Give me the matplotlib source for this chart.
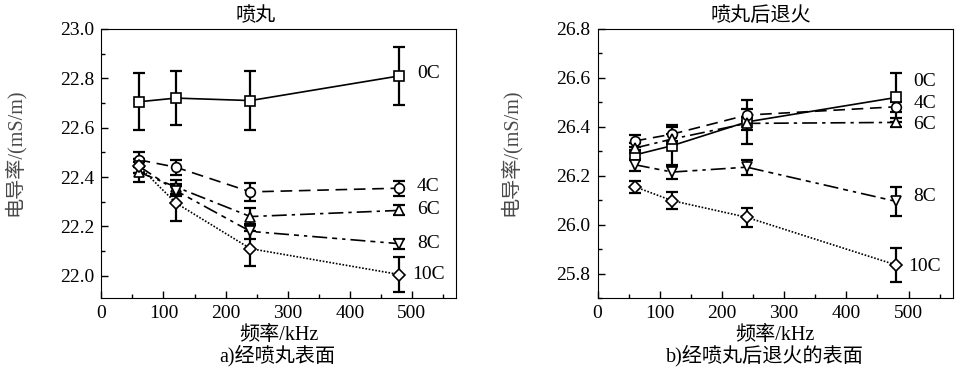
import matplotlib
matplotlib.use("Agg")
import matplotlib.pyplot as plt
from matplotlib.ticker import MultipleLocator, FormatStrFormatter

plt.rcParams['font.family'] = ['Liberation Serif', 'Noto Sans CJK SC']
plt.rcParams['font.size'] = 14

freq = [60, 120, 240, 480]
labels = ['0C', '4C', '6C', '8C', '10C']

# a) shot peened surface
a_vals = {
    '0C': [22.705, 22.72, 22.71, 22.81],
    '4C': [22.47, 22.44, 22.34, 22.355],
    '6C': [22.42, 22.36, 22.24, 22.265],
    '8C': [22.445, 22.345, 22.18, 22.13],
    '10C': [22.445, 22.295, 22.11, 22.005],
}
a_err = {
    '0C': [0.115, 0.11, 0.12, 0.117],
    '4C': [0.03, 0.03, 0.035, 0.03],
    '6C': [0.04, 0.03, 0.035, 0.02],
    '8C': [0.03, 0.02, 0.03, 0.02],
    '10C': [0.03, 0.075, 0.07, 0.07],
}

# b) shot peened + annealed surface
b_vals = {
    '0C': [26.285, 26.323, 26.42, 26.52],
    '4C': [26.342, 26.37, 26.448, 26.482],
    '6C': [26.313, 26.35, 26.414, 26.418],
    '8C': [26.245, 26.215, 26.235, 26.095],
    '10C': [26.155, 26.098, 26.03, 25.835],
}
b_err = {
    '0C': [0.02, 0.085, 0.09, 0.1],
    '4C': [0.025, 0.03, 0.025, 0.02],
    '6C': [0.02, 0.02, 0.025, 0.02],
    '8C': [0.025, 0.03, 0.03, 0.06],
    '10C': [0.025, 0.035, 0.04, 0.07],
}

styles = {
    '0C': ('s', '-'),
    '4C': ('o', (0, (7, 4))),
    '6C': ('^', (0, (9, 3, 2, 3))),
    '8C': ('v', (0, (9, 3, 3, 3, 2, 3))),
    '10C': ('D', (0, (1, 1))),
}

a_label_y = {'0C': 22.82, '4C': 22.36, '6C': 22.27, '8C': 22.13, '10C': 22.005}
b_label_y = {'0C': 26.585, '4C': 26.495, '6C': 26.41, '8C': 26.115, '10C': 25.83}

fig = plt.figure(figsize=(9.56, 3.67), dpi=100)
ax1 = fig.add_axes([0.106, 0.188, 0.371, 0.733])
ax2 = fig.add_axes([0.625, 0.188, 0.3716, 0.733])


def draw(ax, vals, errs, label_y, ylim, title, title_x, caption, cap_x):
    for name in labels:
        m, ls = styles[name]
        ms = 7 if m in ('^', 'v', 'o') else 6.5
        ax.errorbar(freq, vals[name], yerr=errs[name], fmt='none', ecolor='black',
                    elinewidth=1.6, capsize=4, capthick=1.6, zorder=2)
        ax.plot(freq, vals[name], color='black', linestyle=ls, linewidth=1.2,
                marker=m, markersize=ms, markerfacecolor='white',
                markeredgecolor='black', markeredgewidth=1.2, zorder=3)
        x_off = 508 if name != '10C' else 500
        ax.text(x_off, label_y[name], name, ha='left', va='center', fontsize=14)
    ax.set_xlim(0, 571)
    ax.set_ylim(*ylim)
    ax.xaxis.set_major_locator(MultipleLocator(100))
    ax.xaxis.set_minor_locator(MultipleLocator(50))
    ax.yaxis.set_major_locator(MultipleLocator(0.2))
    ax.yaxis.set_minor_locator(MultipleLocator(0.1))
    ax.tick_params(which='both', direction='in', top=False, right=False,
                   labelsize=14, width=1)
    ax.tick_params(which='major', length=5, pad=5)
    ax.tick_params(which='minor', length=3)
    ax.yaxis.set_major_formatter(FormatStrFormatter('%.1f'))
    ax.set_ylabel('电导率/(mS/m)', fontsize=14.5, color='#4a4a4a')
    ax.yaxis.set_label_coords(-0.215, 0.54)
    pos = ax.get_position()
    xc = pos.x0 + pos.width / 2
    fig.text(title_x, 0.956, title, ha='center', va='center', fontsize=14.5)
    fig.text(xc, 0.087, '频率/kHz', ha='center', va='center', fontsize=14.5)
    fig.text(cap_x, 0.030, caption, ha='center', va='center', fontsize=14.5)


draw(ax1, a_vals, a_err, a_label_y, (21.91, 23.0), '喷丸', 0.267,
     'a)经喷丸表面', 0.290)
draw(ax2, b_vals, b_err, b_label_y, (25.7, 26.8), '喷丸后退火', 0.796,
     'b)经喷丸后退火的表面', 0.800)

fig.savefig('out.png', dpi=100)
